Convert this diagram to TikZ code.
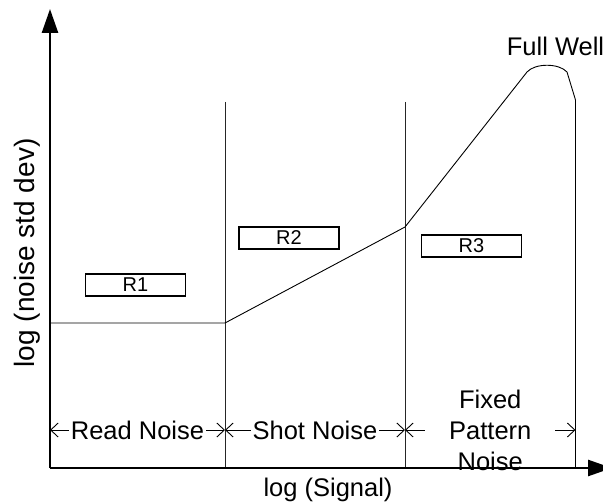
\documentclass[tikz,border=0pt]{standalone}
\usepackage{fontspec}
\setmainfont{Liberation Sans}
\usetikzlibrary{arrows.meta}
\begin{document}
\begin{tikzpicture}[x=1pt,y=-1pt,
  big/.style={font=\fontsize{25.5}{31}\selectfont},
  rbox/.style={draw,line width=1.2pt,minimum width=100pt,minimum height=22pt,inner sep=0pt,font=\fontsize{20}{24}\selectfont},
  divider/.style={line width=0.9pt,black!85},
  curveline/.style={line width=0.9pt},
  dim/.style={line width=0.9pt,{Straight Barb[length=7.5pt,width=14pt]}-{Straight Barb[length=7.5pt,width=14pt]}},
  axisline/.style={line width=2.6pt,-{Triangle[length=24pt,width=16pt]}},
  lbl/.style={big,fill=white,inner xsep=2pt,inner ysep=0pt}]
\useasboundingbox (0,0) rectangle (603,503);
% key points
\coordinate (O) at (50,468);
\coordinate (ytip) at (50,9);
\coordinate (xtip) at (612,468);
\coordinate (v1t) at (225,102);
\coordinate (v1b) at (225,468);
\coordinate (v2t) at (405,102);
\coordinate (v2b) at (405,468);
\coordinate (v3b) at (575.5,468);
\coordinate (c0) at (50,323);
\coordinate (c1) at (225,323);
\coordinate (c2) at (405,227);
\coordinate (c3) at (527,72);
\coordinate (c4) at (567,72);
\coordinate (c5) at (575.5,100);
\coordinate (d0) at (50,430);
\coordinate (d1) at (225,430);
\coordinate (d2) at (405,430);
\coordinate (d3) at (575.5,430);
% region dividers
\draw[divider] (v1t) -- (v1b);
\draw[divider] (v2t) -- (v2b);
% noise curve
\draw[curveline] (c0) -- (c1) -- (c2) -- (c3)
  .. controls (535,63) and (559,63) .. (c4) -- (c5) -- (v3b);
% region boxes
\node[rbox] (r1) at (135.5,285) {R1};
\node[rbox] (r2) at (289,238) {R2};
\node[rbox] (r3) at (471.5,246) {R3};
% dimension arrows
\draw[dim] (d0) -- node[lbl] (rn) {Read Noise} (d1);
\draw[dim] (d1) -- node[lbl] (sn) {Shot Noise} (d2);
\draw[dim] (d2) -- node[lbl,align=center,minimum width=130pt] (fpn) {Fixed\\Pattern\\Noise} (d3);
% labels
\node[big] (fw) at (555.5,46.5) {Full Well};
\node[font=\fontsize{28}{34}\selectfont,rotate=90] (ylab) at (27,253) {log (noise std dev)};
\node[big] (xlab) at (328,490) {log (Signal)};
% axes
\draw[axisline] (O) -- (ytip);
\draw[axisline] (O) -- (xtip);
\end{tikzpicture}
\end{document}
